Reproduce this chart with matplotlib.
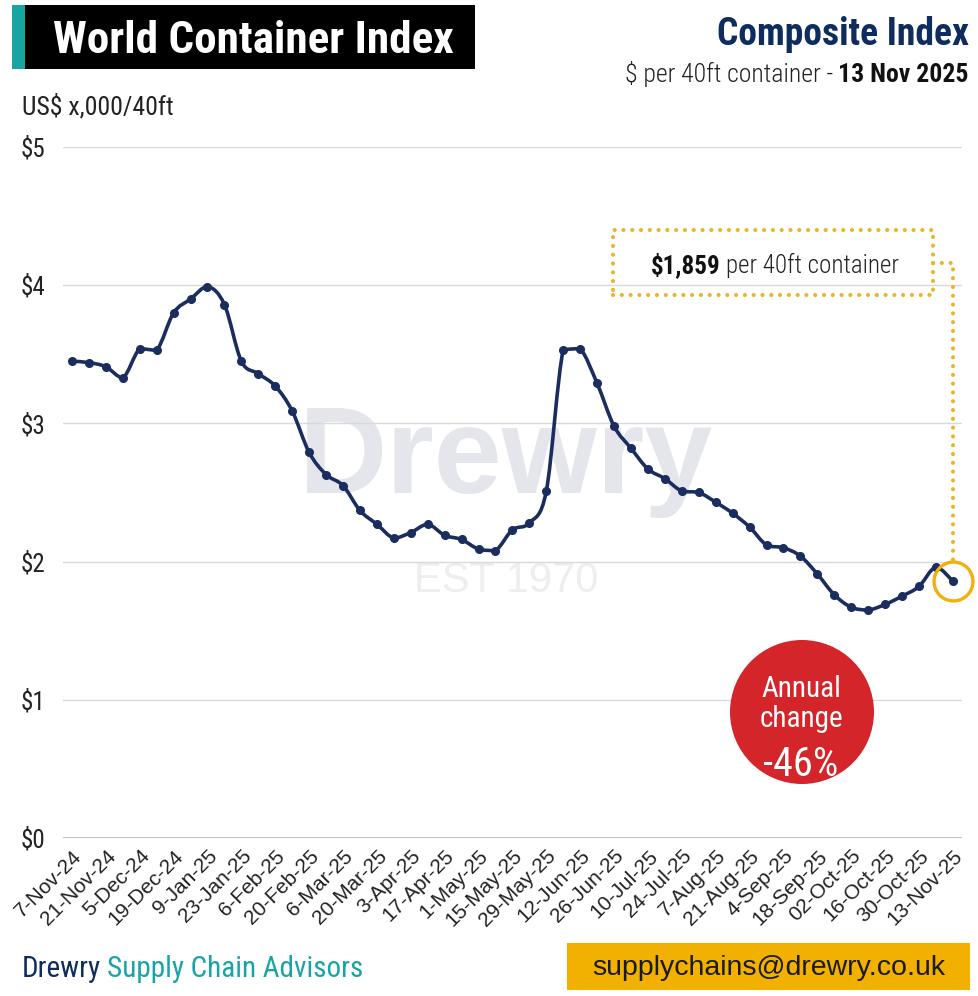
import numpy as np
import matplotlib
matplotlib.use('Agg')
import matplotlib.pyplot as plt
from matplotlib import font_manager
from matplotlib.path import Path
from matplotlib.patches import PathPatch, Rectangle, Ellipse

# weekly composite index, US$ '000 per 40ft
weeks = ['7-Nov-24', '14-Nov-24', '21-Nov-24', '28-Nov-24', '5-Dec-24', '12-Dec-24',
         '19-Dec-24', '2-Jan-25', '9-Jan-25', '16-Jan-25', '23-Jan-25', '30-Jan-25',
         '6-Feb-25', '13-Feb-25', '20-Feb-25', '27-Feb-25', '6-Mar-25', '13-Mar-25',
         '20-Mar-25', '27-Mar-25', '3-Apr-25', '10-Apr-25', '17-Apr-25', '24-Apr-25',
         '1-May-25', '8-May-25', '15-May-25', '22-May-25', '29-May-25', '5-Jun-25',
         '12-Jun-25', '19-Jun-25', '26-Jun-25', '3-Jul-25', '10-Jul-25', '17-Jul-25',
         '24-Jul-25', '31-Jul-25', '7-Aug-25', '14-Aug-25', '21-Aug-25', '28-Aug-25',
         '4-Sep-25', '11-Sep-25', '18-Sep-25', '25-Sep-25', '02-Oct-25', '09-Oct-25',
         '16-Oct-25', '23-Oct-25', '30-Oct-25', '6-Nov-25', '13-Nov-25']
wci = [3.45, 3.44, 3.41, 3.33, 3.54, 3.53, 3.80, 3.90, 3.99, 3.86,
       3.45, 3.36, 3.27, 3.09, 2.79, 2.63, 2.55, 2.37, 2.27, 2.17,
       2.21, 2.27, 2.19, 2.16, 2.09, 2.08, 2.23, 2.28, 2.51, 3.53,
       3.54, 3.29, 2.98, 2.82, 2.67, 2.60, 2.51, 2.50, 2.43, 2.35,
       2.25, 2.12, 2.10, 2.04, 1.91, 1.76, 1.67, 1.65, 1.69, 1.75,
       1.82, 1.96, 1.859]
yticks = [0, 1, 2, 3, 4, 5]
latest_label = '$1,859'
annual_change = '-46%'

NAVY = '#1b2d5e'
TITLE_NAVY = '#0e2c5e'
TEAL = '#19a4a4'
GOLD = '#f0b10c'
DOT_GOLD = '#ebb52a'
RED = '#d3252a'
GRID = '#d9d9d9'

installed = {f.name for f in font_manager.fontManager.ttflist}


def pick(*names):
    for n in names:
        if n in installed:
            return n
    return 'DejaVu Sans'


NARROW = pick('Roboto Condensed', 'Liberation Sans Narrow', 'DejaVu Sans Condensed',
              'Liberation Sans')
ARIAL = pick('Liberation Sans', 'Roboto', 'DejaVu Sans')

W, H = 979, 996
fig = plt.figure(figsize=(W / 100, H / 100), dpi=100)
fig.patch.set_facecolor('white')


def px(x, y):
    return x / W, 1 - y / H


def runs(parts, x, y, align='left', gap=0):
    # lay out text pieces side by side, x/y in pixels (y = baseline)
    r = fig.canvas.get_renderer()
    objs, widths = [], []
    for s, kw in parts:
        t = fig.text(0, 0, s, va='baseline', ha='left', **kw)
        widths.append(t.get_window_extent(r).width)
        objs.append(t)
    total = sum(widths) + gap * (len(parts) - 1)
    start = {'left': x, 'right': x - total, 'center': x - total / 2}[align]
    for t, w in zip(objs, widths):
        t.set_position(px(start, y))
        start += w + gap


# axes
ax = fig.add_axes([63 / W, 1 - 838 / H, 899 / W, 691 / H])
x = np.arange(len(wci))
ax.set_xlim(-0.53, 52.54)
ax.set_ylim(0, 5)
for s in ax.spines.values():
    s.set_visible(False)
ax.set_yticks(yticks)
ax.set_yticklabels(['$%d' % v for v in yticks], fontfamily=NARROW, fontsize=18)
ax.set_xticks(x[::2])
ax.set_xticklabels(weeks[::2], rotation=45, ha='right', rotation_mode='anchor',
                   fontfamily=ARIAL, fontsize=15)
ax.tick_params(axis='y', length=0, pad=13, labelcolor='#222222')
ax.tick_params(axis='x', length=0, pad=6, labelcolor='#222222')
ax.grid(axis='y', color=GRID, lw=1.0)
ax.set_axisbelow(True)
ax.axhline(0, color='#bdbdbd', lw=2, zorder=1)

# watermark
ax.text(0.493, 0.499, 'Drewry', transform=ax.transAxes, ha='center', va='baseline',
        fontsize=88, fontweight='bold', fontfamily=ARIAL, color='#e5e6ec', zorder=0)
ax.text(0.493, 0.372, 'EST 1970', transform=ax.transAxes, ha='center', va='center',
        fontsize=30, fontfamily=ARIAL, color='#eeeeee', zorder=0)

# smoothed line through the weekly points (cubic Bezier segments, no overshoot)
P = np.column_stack([x, wci]).astype(float)
verts = [P[0]]
codes = [Path.MOVETO]
for i in range(len(P) - 1):
    p0 = P[max(i - 1, 0)]
    p1, p2 = P[i], P[i + 1]
    p3 = P[min(i + 2, len(P) - 1)]
    c1 = p1 + (p2 - p0) / 6
    c2 = p2 - (p3 - p1) / 6
    lo, hi = min(p1[1], p2[1]), max(p1[1], p2[1])
    c1[1] = np.clip(c1[1], lo, hi)
    c2[1] = np.clip(c2[1], lo, hi)
    verts += [c1, c2, p2]
    codes += [Path.CURVE4] * 3
ax.add_patch(PathPatch(Path(verts, codes), facecolor='none', edgecolor=NAVY, lw=2.6,
                       capstyle='round', joinstyle='round', zorder=3))
ax.plot(x, wci, 'o', color=NAVY, ms=5.5, zorder=4)

# latest value callout
ax.plot(x[-1], wci[-1], 'o', ms=28, mfc='none', mec=GOLD, mew=2.4, zorder=5, clip_on=False)
bx0, bx1 = (613 - 63) / 899, (933 - 63) / 899
by0, by1 = (838 - 295) / 691, (838 - 230) / 691
dots = (0, (0.01, 2.1))
ax.add_patch(Rectangle((bx0, by0), bx1 - bx0, by1 - by0, transform=ax.transAxes,
                       fill=False, edgecolor=DOT_GOLD, lw=3, linestyle=dots,
                       capstyle='round', zorder=5, clip_on=False))
ax.annotate('', xy=(x[-1], wci[-1]), xycoords='data',
            xytext=(bx1, (by0 + by1) / 2), textcoords='axes fraction',
            arrowprops=dict(arrowstyle='-', color=DOT_GOLD, lw=3, linestyle=dots,
                            capstyle='round', shrinkA=0, shrinkB=15,
                            connectionstyle='angle,angleA=0,angleB=90,rad=0'),
            annotation_clip=False, zorder=5)
runs([(latest_label, dict(fontfamily=NARROW, fontsize=18, fontweight='bold', color='#111111')),
      ('per 40ft container', dict(fontfamily=NARROW, fontsize=18, fontweight='light',
                                  color='#222222'))],
     775, 273, align='center', gap=5)

# annual change bubble
fig.add_artist(Ellipse(px(802, 712), 144 / W, 144 / H, transform=fig.transFigure,
                       facecolor=RED, edgecolor='none'))
for s, yb, fs in [('Annual', 697, 21), ('change', 727, 21), (annual_change, 776, 29)]:
    fig.text(*px(801, yb), s, ha='center', va='baseline', fontsize=fs,
             fontfamily=NARROW, color='white')

# header
fig.add_artist(Rectangle(px(12, 69), 463 / W, 64 / H, transform=fig.transFigure,
                         facecolor='black', edgecolor='none'))
fig.add_artist(Rectangle(px(12, 69), 13 / W, 64 / H, transform=fig.transFigure,
                         facecolor=TEAL, edgecolor='none'))
fig.text(*px(253, 53), 'World Container Index', ha='center', va='baseline',
         fontsize=32.5, fontweight='bold', fontfamily=NARROW, color='white')
fig.text(*px(22, 114), 'US$ x,000/40ft', ha='left', va='baseline', fontsize=18.5,
         fontfamily=NARROW, color='#222222')
fig.text(*px(969, 45), 'Composite Index', ha='right', va='baseline', fontsize=27,
         fontweight='bold', fontfamily=NARROW, color=TITLE_NAVY)
runs([('$ per 40ft container -', dict(fontfamily=NARROW, fontsize=18.5, fontweight='light',
                                      color='#222222')),
      ('13 Nov 2025', dict(fontfamily=NARROW, fontsize=18.5, color='#111111',
                           fontweight='bold'))],
     969, 82, align='right', gap=5)

# footer
runs([('Drewry', dict(fontfamily=NARROW, fontsize=21, color=TITLE_NAVY)),
      ('Supply Chain Advisors', dict(fontfamily=NARROW, fontsize=21, color=TEAL))],
     22, 977, align='left', gap=6)
fig.add_artist(Rectangle(px(567, 990), 403 / W, 47 / H, transform=fig.transFigure,
                         facecolor='#f2b000', edgecolor='none'))
fig.text(*px(769, 975), 'supplychains@drewry.co.uk', ha='center', va='baseline',
         fontsize=20.5, fontfamily=ARIAL, color='#1a1a1a')

fig.savefig('out.png', dpi=100)
